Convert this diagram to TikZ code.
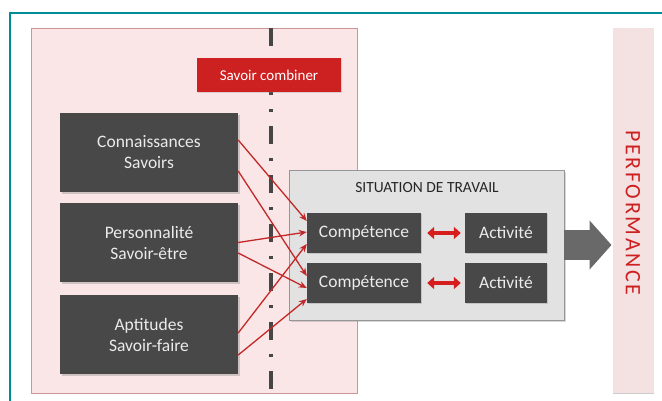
\documentclass[tikz,border=0pt]{standalone}
\usepackage{fontspec}
\setmainfont{Carlito}
\usetikzlibrary{arrows.meta,shadows}

\begin{document}
\begin{tikzpicture}[x=1pt,y=-1pt,
  darkbox/.style={fill=boxColor,text=white!92!black,minimum width=178pt,minimum height=79pt,
    inner sep=0pt,align=center,font=\fontsize{17.5}{21}\selectfont,
    drop shadow={shadow xshift=1.5pt,shadow yshift=-1.5pt,opacity=0.35}},
  smallbox/.style={fill=boxColor,text=white!92!black,minimum height=40pt,inner sep=0pt,
    font=\fontsize{17.5}{20}\selectfont,
    drop shadow={shadow xshift=1.2pt,shadow yshift=-1.2pt,opacity=0.3}},
  link/.style={draw=linkColor,line width=1.3pt,-{Stealth[length=8pt,width=6.5pt]}},
  swap/.style={draw=swapColor,line width=4pt,
    {Triangle[length=7pt,width=12pt]}-{Triangle[length=7pt,width=12pt]}}]
% Colors
\definecolor{frameColor}{RGB}{0,140,150}
\definecolor{panelColor}{RGB}{250,230,230}
\definecolor{panelLine}{RGB}{205,150,150}
\definecolor{boxColor}{RGB}{72,72,72}
\definecolor{redColor}{RGB}{205,32,32}
\definecolor{linkColor}{RGB}{195,40,40}
\definecolor{swapColor}{RGB}{215,30,30}
\definecolor{situColor}{RGB}{226,226,226}
\definecolor{situLine}{RGB}{150,150,150}
\definecolor{arrowColor}{RGB}{105,105,105}
\definecolor{lineColor}{RGB}{70,70,70}
% Frame and background
\clip (0,0) rectangle (662,400);
\fill[white] (0,0) rectangle (662,400);
\draw[frameColor,line width=1.6pt] (10,420) -- (10,13) -- (680,13);
\begin{scope}
	\draw[panelLine,fill=panelColor,line width=0.6pt] (31,28) rectangle (357,393); % panel
	\fill[panelColor!95!gray] (613,28) rectangle (654,393); % performance bar
	\draw[black!20,line width=1pt] (613,393.5) -- (654,393.5);
	\draw[lineColor,line width=3.5pt,dash pattern=on 18pt off 14pt on 3pt off 14pt]
	  (271,28) -- (271,393);
\end{scope}
% Skill boxes
\node[fill=redColor,text=white,minimum width=144pt,minimum height=34pt,inner sep=0pt,
  font=\fontsize{15}{17}\selectfont,
  drop shadow={shadow xshift=1pt,shadow yshift=-1pt,opacity=0.25}] (combiner) at (269,75) {Savoir combiner};
\node[darkbox] (savoirs) at (149,152.5) {Connaissances\\Savoirs};
\node[darkbox] (etre) at (149,242.5) {Personnalité\\Savoir-être};
\node[darkbox] (faire) at (149,334.5) {Aptitudes\\Savoir-faire};
% Work situation
\node[draw=situLine,fill=situColor,line width=0.8pt,minimum width=275pt,minimum height=150pt,
  drop shadow={shadow xshift=1.5pt,shadow yshift=-1.5pt,opacity=0.3}] (situ) at (426.5,245) {};
\node[text=black!85,font=\fontsize{15.5}{18}\selectfont] (titre) at (427,188) {SITUATION DE TRAVAIL};
\node[smallbox,minimum width=114pt] (comp1) at (364,233) {Compétence};
\node[smallbox,minimum width=114pt] (comp2) at (364,283) {Compétence};
\node[smallbox,minimum width=82pt] (act1) at (506,233) {Activité};
\node[smallbox,minimum width=82pt] (act2) at (506,283) {Activité};
\node[rotate=-90,text=redColor,font=\fontsize{22}{24}\selectfont\addfontfeatures{LetterSpace=12}]
  (perf) at (633,213) {PERFORMANCE};
% Links
\draw[link] ([yshift=12.5pt]savoirs.east) -- ([yshift=12pt]comp1.west);
\draw[link] ([yshift=-18.5pt]savoirs.east) -- ([yshift=7pt]comp2.west);
\draw[link] ([yshift=0pt]etre.east) -- ([yshift=1pt]comp1.west);
\draw[link] ([yshift=-10.5pt]etre.east) -- ([yshift=-5pt]comp2.west);
\draw[link] ([yshift=1.5pt]faire.east) -- ([yshift=-11pt]comp1.west);
\draw[link] ([yshift=-20.5pt]faire.east) -- ([yshift=-16pt]comp2.west);
\draw[swap,shorten <=6pt,shorten >=4pt] (comp1) -- (act1);
\draw[swap,shorten <=6pt,shorten >=4pt] (comp2) -- (act2);
% Output arrow
\draw[arrowColor,line width=30pt,-{Triangle[length=22pt,width=48pt]}] (situ.east) -- (611.5,245);
\end{tikzpicture}
\end{document}
